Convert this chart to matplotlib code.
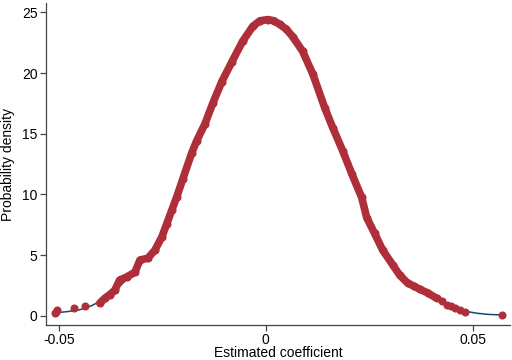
import numpy as np
import matplotlib.pyplot as plt

plt.rcParams["font.family"] = ["Liberation Sans", "DejaVu Sans"]

# ---------------------------------------------------------------------------
# DATA
# ---------------------------------------------------------------------------

# dense band of estimates (red points, drawn as a continuous band)
band_x = [-0.0401, -0.0389, -0.0377, -0.0365, -0.0353, -0.0336, -0.0316,
          -0.0304, -0.0285, -0.0268, -0.0251, -0.0239, -0.0227, -0.0215,
          -0.0200, -0.0179, -0.0167, -0.0147, -0.0128, -0.0106, -0.0082,
          -0.0056, -0.0031, -0.0014, 0.0005, 0.0020, 0.0034, 0.0050,
          0.0065, 0.0089, 0.0114, 0.0143, 0.0162, 0.0186, 0.0208, 0.0232,
          0.0244, 0.0263, 0.0283, 0.0307, 0.0324, 0.0343, 0.0358, 0.0372,
          0.0391, 0.0413]
band_y = [1.05, 1.45, 1.75, 2.1, 2.95, 3.2, 3.6,
          4.6, 4.75, 5.4, 6.5, 7.6, 8.7, 9.8,
          11.3, 13.4, 14.4, 15.8, 17.5, 19.3, 20.9,
          22.6, 23.85, 24.3, 24.4, 24.3, 24.0, 23.6,
          23.0, 21.8, 19.9, 17.1, 15.5, 13.6, 11.7, 9.75,
          8.1, 6.8, 5.4, 4.2, 3.35, 2.7, 2.45, 2.2,
          1.9, 1.45]

# isolated estimates in the tails
tail_x = [-0.0510, -0.0507, -0.0505, -0.0464, -0.0437,
          0.0425, 0.0437, 0.0447, 0.0457, 0.0469, 0.0481, 0.0570]
tail_y = [0.2, 0.35, 0.45, 0.65, 0.8,
          1.2, 0.9, 0.8, 0.65, 0.45, 0.3, 0.1]

# smooth kernel density curve (navy)
kde_x = [-0.0510, -0.0480, -0.0450, -0.0420, -0.0390, -0.0360, -0.0330,
         -0.0300, -0.0270, -0.0240, -0.0210, -0.0180, -0.0150, -0.0120,
         -0.0090, -0.0060, -0.0030, 0.0000, 0.0030, 0.0060, 0.0090,
         0.0120, 0.0150, 0.0180, 0.0210, 0.0240, 0.0270, 0.0300, 0.0330,
         0.0360, 0.0390, 0.0420, 0.0450, 0.0480, 0.0510, 0.0540, 0.0570]
kde_y = [0.25, 0.35, 0.5, 0.85, 1.4, 2.2, 3.2,
         4.3, 5.3, 7.5, 10.2, 13.2, 15.6, 18.0,
         20.2, 22.3, 23.9, 24.4, 24.1, 23.2, 21.7,
         19.5, 16.6, 14.1, 11.7, 8.6, 6.3, 4.5, 3.1,
         2.4, 1.9, 1.3, 0.75, 0.4, 0.22, 0.12, 0.08]

# ---------------------------------------------------------------------------
# PLOT
# ---------------------------------------------------------------------------

red = "#ae2f3a"
navy = "#1a476f"

fig = plt.figure(figsize=(5.12, 3.6), dpi=100)
ax = fig.add_axes([0.0898, 0.0972, 0.906, 0.894])

ax.plot(kde_x, kde_y, color=navy, lw=1.1, zorder=1)
ax.plot(band_x, band_y, color=red, lw=5.5, solid_capstyle="round",
        solid_joinstyle="round", zorder=2)
ax.plot(band_x, band_y, "o", color=red, ms=4.8, zorder=3)
ax.plot(tail_x, tail_y, "o", color=red, ms=4.8, zorder=3)

ax.set_xlim(-0.0531, 0.0590)
ax.set_ylim(-0.75, 25.75)
ax.set_xticks([-0.05, 0, 0.05])
ax.set_xticklabels(["-0.05", "0", "0.05"])
ax.set_yticks([0, 5, 10, 15, 20, 25])

for side in ("top", "right"):
    ax.spines[side].set_visible(False)
for side in ("left", "bottom"):
    ax.spines[side].set_color("#444444")
    ax.spines[side].set_linewidth(0.9)

ax.tick_params(axis="both", colors="#444444", length=4, width=0.9,
               labelsize=10, labelcolor="black", pad=2)

ax.set_xlabel("Estimated coefficient", fontsize=10, labelpad=-1)
ax.set_ylabel("Probability density", fontsize=10, labelpad=5)

plt.savefig("out.png", dpi=100)
